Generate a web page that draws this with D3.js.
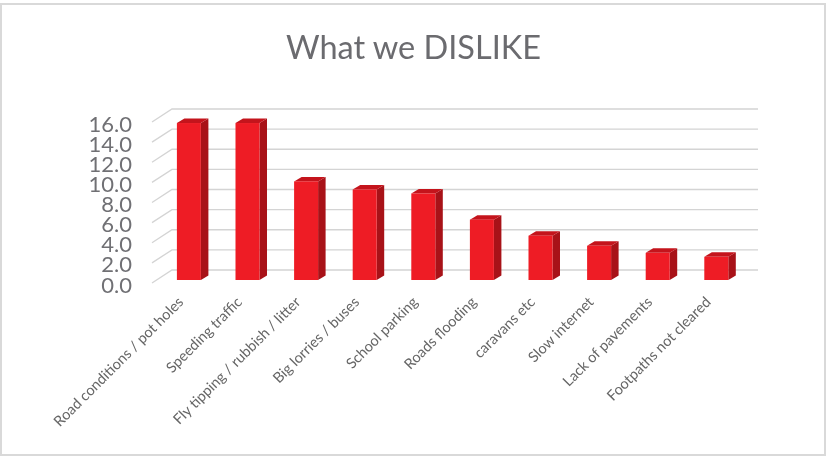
<!DOCTYPE html>
<html lang="en">
<head>
<meta charset="UTF-8">
<title>What we DISLIKE</title>
<script src="https://d3js.org/d3.v7.min.js"></script>
<style>
    html, body { margin: 0; padding: 0; background: #fff; }
    svg { display: block; filter: blur(0.4px); }
    text { font-family: Lato, "Open Sans", sans-serif; }
</style>
</head>
<body>
<div id="chart"></div>
<script>
    const categories = [
        'Road conditions / pot holes', 'Speeding traffic', 'Fly tipping / rubbish / litter',
        'Big lorries / buses', 'School parking', 'Roads flooding', 'caravans etc',
        'Slow internet', 'Lack of pavements', 'Footpaths not cleared'
    ];
    const values = [15.6, 15.6, 9.8, 9.0, 8.6, 6.0, 4.4, 3.4, 2.7, 2.3];
    const yTicks = [0, 2, 4, 6, 8, 10, 12, 14, 16];

    const width = 826, height = 457;
    const svg = d3.select('#chart').append('svg').attr('width', width).attr('height', height);

    // chart frame
    svg.append('rect').attr('x', 1).attr('y', 4).attr('width', 824).attr('height', 451)
        .attr('fill', '#fff').attr('stroke', '#d9d9d9').attr('stroke-width', 2);

    svg.append('text').attr('x', 413.5).attr('y', 59).attr('text-anchor', 'middle')
        .attr('font-size', 32.5).attr('fill', '#6b6b6f').text('What we DISLIKE');

    // front edge of the floor, the back wall sits up and to the right of it
    const depth = { x: 20, y: -13 };
    const x = d3.scaleBand().domain(categories).range([152, 738]);
    const y = d3.scaleLinear().domain([0, 16]).range([283, 122]);

    const grid = svg.append('g');
    yTicks.forEach(t => {
        grid.append('path')
            .attr('d', `M${x.range()[0]},${y(t)}l${depth.x},${depth.y}H${x.range()[1] + depth.x}`)
            .attr('fill', 'none').attr('stroke', '#d4d4d4').attr('stroke-width', 1.3);
    });

    svg.append('g').selectAll('text').data(yTicks).join('text')
        .attr('x', 132).attr('y', d => y(d) + 9.5).attr('text-anchor', 'end')
        .attr('font-size', 22).attr('fill', '#707074').text(d => d.toFixed(1));

    // bars stand in the middle of the depth
    const barW = 24, sideX = 7.5, sideY = -4.5, inset = 7.6, lift = -3;
    const bars = svg.append('g').selectAll('g').data(categories).join('g')
        .attr('transform', c => `translate(${x(c) + x.bandwidth() / 2 - barW / 2 + inset},${lift})`);
    const barTop = (c, i) => y(values[i]);

    bars.append('path') // side
        .attr('fill', '#a81218')
        .attr('d', (c, i) => `M${barW},${barTop(c, i)}l${sideX},${sideY}V${y(0) + sideY}l${-sideX},${-sideY}Z`);
    bars.append('path') // top
        .attr('fill', '#c4141c')
        .attr('d', (c, i) => `M0,${barTop(c, i)}l${sideX},${sideY}h${barW}l${-sideX},${-sideY}Z`);
    bars.append('rect') // front
        .attr('x', 0).attr('width', barW)
        .attr('y', (c, i) => barTop(c, i))
        .attr('height', (c, i) => y(0) - barTop(c, i))
        .attr('fill', '#ee1c25');

    // category labels at 45 degrees, ending under each bar
    svg.append('g').selectAll('text').data(categories).join('text')
        .attr('transform', c => `translate(${x(c) + x.bandwidth() / 2 + 3},303) rotate(-45)`)
        .attr('text-anchor', 'end')
        .attr('font-size', 14.6).attr('fill', '#666').text(c => c);
</script>
</body>
</html>
